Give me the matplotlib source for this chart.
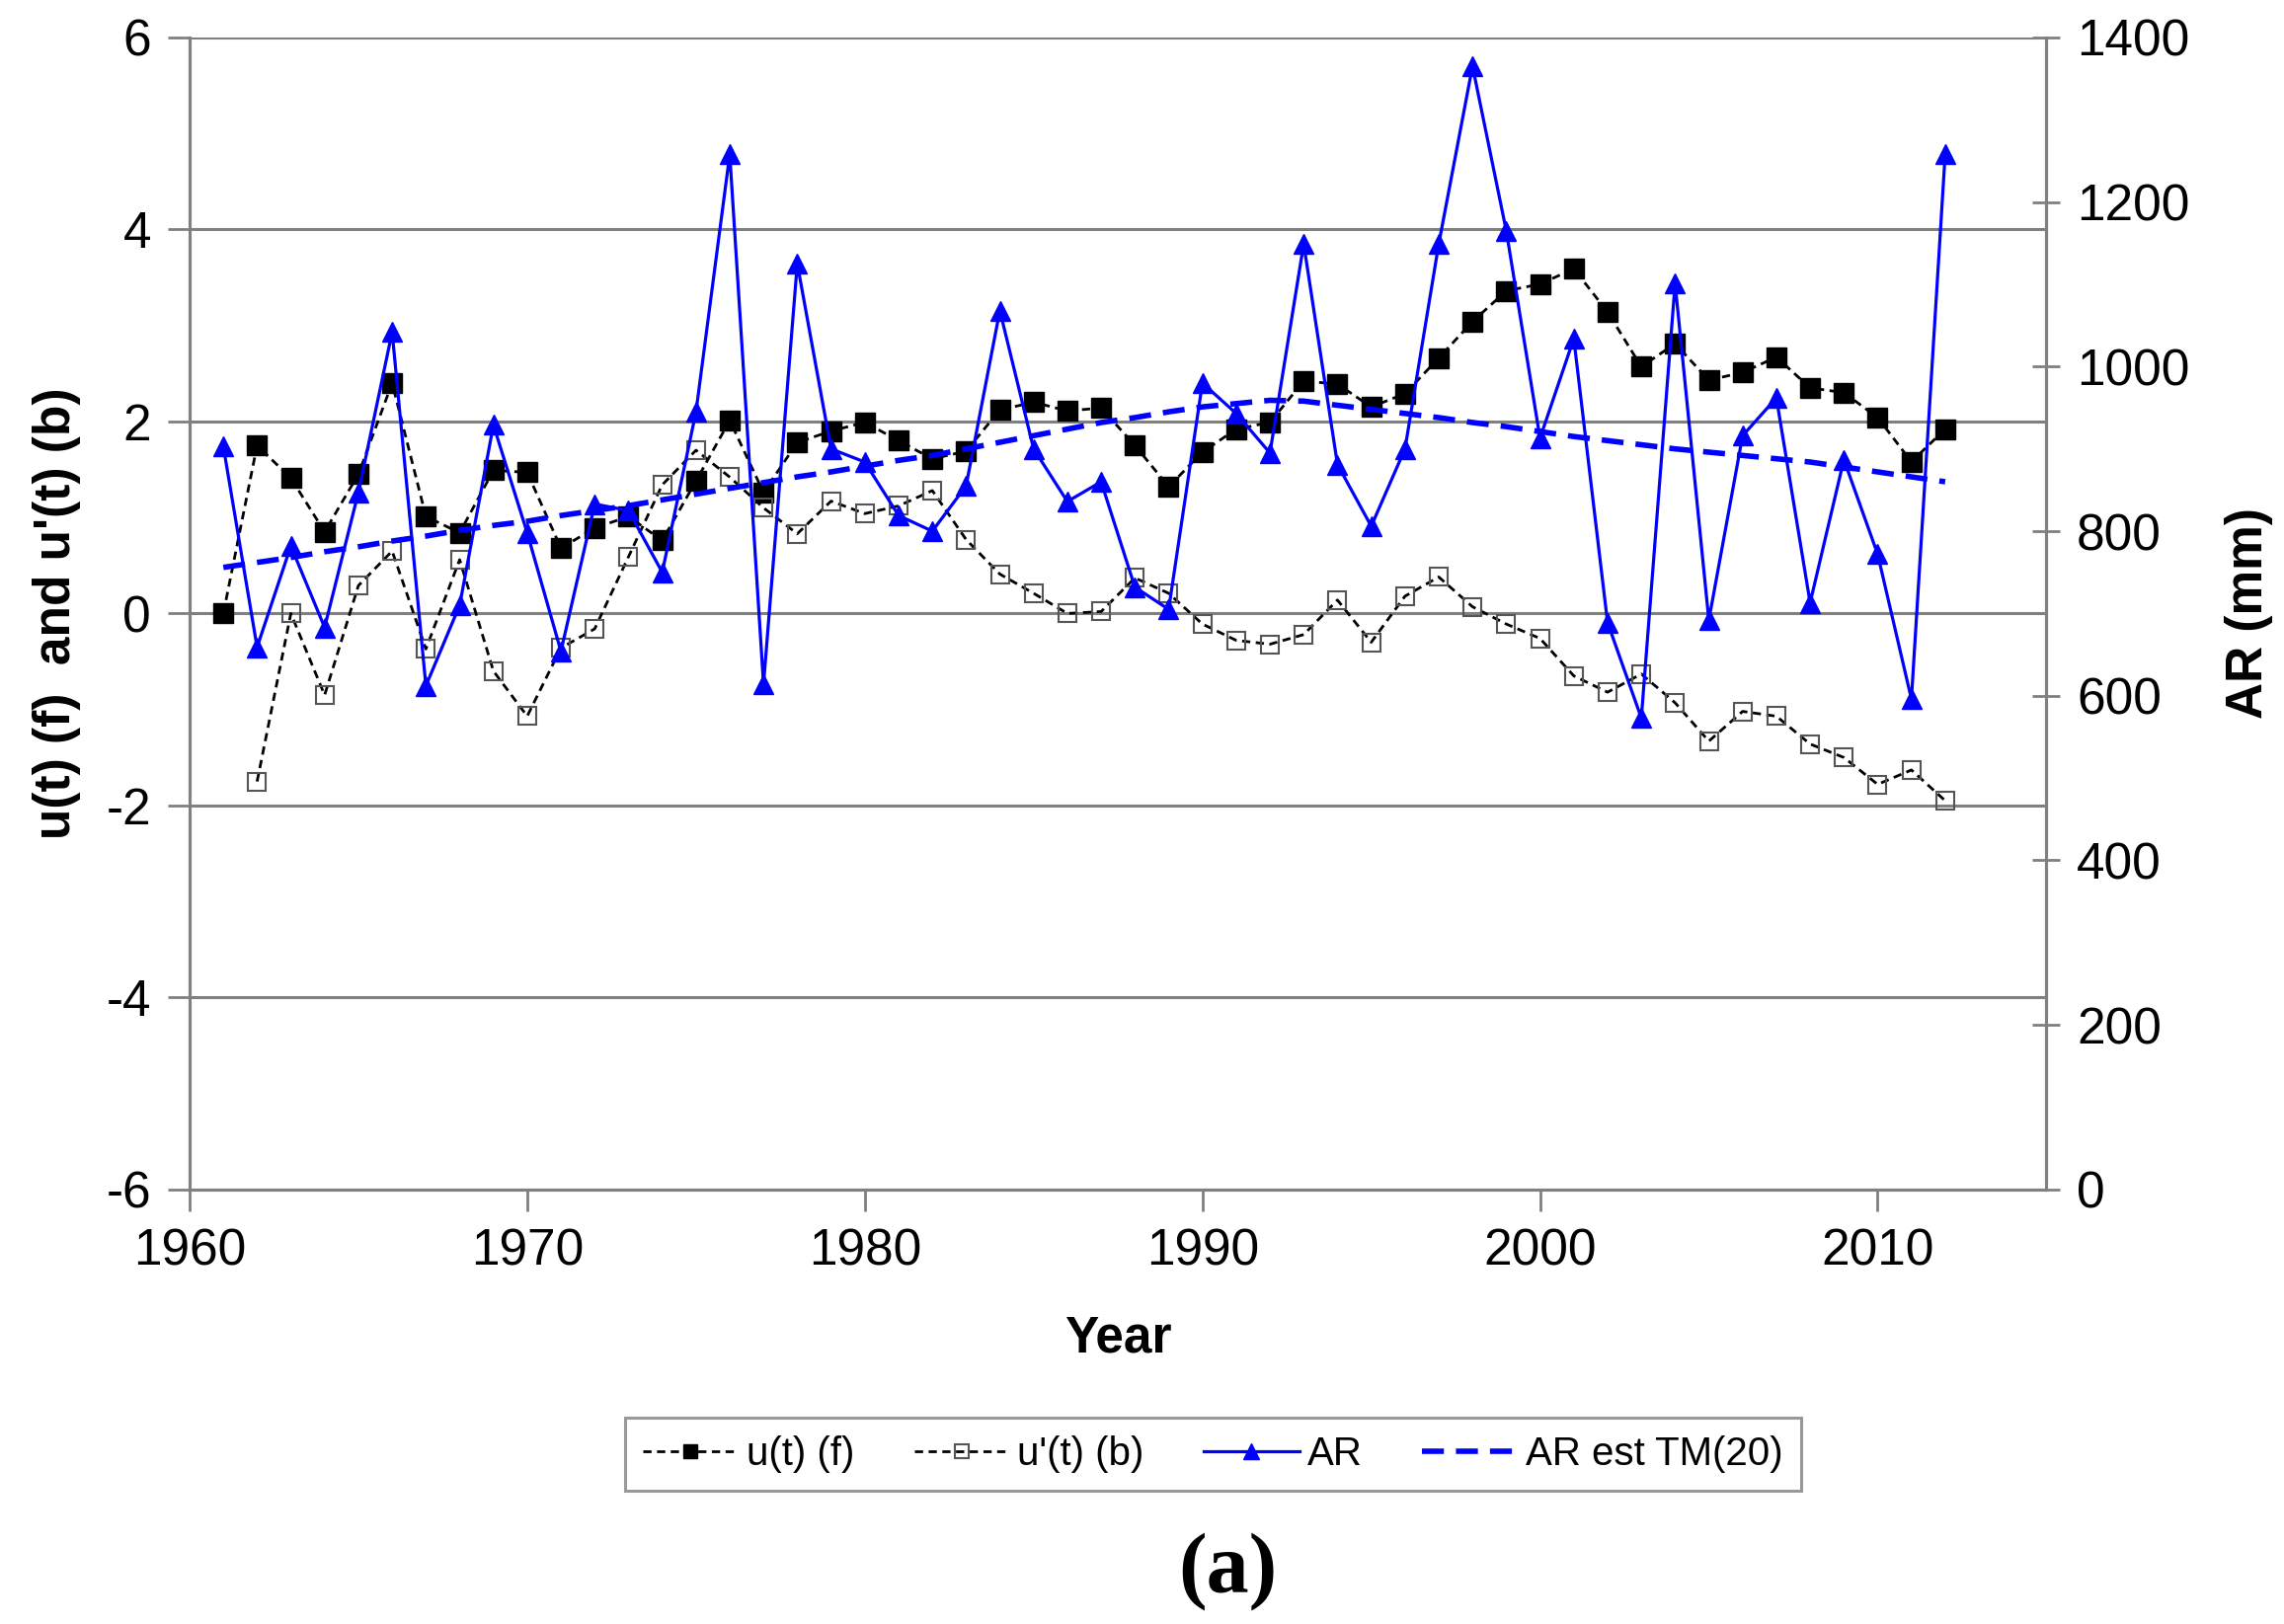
import matplotlib
matplotlib.use("Agg")
import matplotlib.pyplot as plt

plt.rcParams['font.family'] = ['Liberation Sans', 'DejaVu Sans']
plt.rcParams['axes.unicode_minus'] = False

years = list(range(1961, 2013))

# u(t) (f) - forward statistic
u_f = [0.00, 1.75, 1.41, 0.85, 1.45, 2.40, 1.01, 0.84, 1.49, 1.47,
       0.68, 0.89, 1.01, 0.76, 1.38, 2.01, 1.26, 1.78, 1.90, 1.99,
       1.80, 1.61, 1.69, 2.12, 2.20, 2.11, 2.14, 1.75, 1.32, 1.68,
       1.92, 1.99, 2.42, 2.39, 2.15, 2.29, 2.66, 3.04, 3.36, 3.43,
       3.59, 3.14, 2.57, 2.81, 2.43, 2.51, 2.67, 2.35, 2.30, 2.04,
       1.58, 1.92]

# u'(t) (b) - backward statistic (starts 1962)
years_b = list(range(1962, 2013))
u_b = [-1.75, 0.00, -0.85, 0.29, 0.65, -0.37, 0.56, -0.60, -1.07,
       -0.36, -0.16, 0.59, 1.34, 1.70, 1.42, 1.10, 0.83, 1.17, 1.04,
       1.12, 1.28, 0.77, 0.41, 0.21, 0.00, 0.02, 0.37, 0.21, -0.11,
       -0.28, -0.32, -0.22, 0.14, -0.30, 0.18, 0.38, 0.07, -0.11, -0.26,
       -0.65, -0.82, -0.63, -0.93, -1.33, -1.02, -1.07, -1.36, -1.50,
       -1.78, -1.63, -1.95]

# annual rainfall AR (mm)
ar = [903, 659, 782, 683, 847, 1042, 612, 710, 929, 798,
      654, 833, 825, 750, 945, 1258, 614, 1125, 900, 884,
      819, 800, 855, 1068, 900, 836, 860, 732, 705, 980,
      943, 895, 1149, 881, 806, 900, 1149, 1365, 1165, 913,
      1034, 689, 573, 1101, 692, 916, 962, 713, 887, 772,
      596, 1258]

# AR est TM(20)
ar_tm = [756, 762, 768, 775, 781, 788, 794, 801, 807, 812,
         819, 825, 831, 838, 845, 852, 859, 866, 872, 879,
         886, 892, 900, 908, 916, 924, 932, 938, 945, 951,
         955, 959, 958, 953, 948, 943, 938, 932, 927, 921,
         915, 910, 905, 900, 896, 892, 888, 884, 878, 872,
         866, 860]

fig = plt.figure(figsize=(23.13, 16.45), dpi=100)
ax = fig.add_axes([0.083, 0.2675, 0.813, 0.7095])
ax2 = ax.twinx()

gc = '#808080'
fs = 37

ax.plot(years, u_f, color='black', ls=(0, (3, 2)), lw=2.0, marker='s',
        ms=14, mfc='black', mec='black', label='u(t) (f)', zorder=3)
ax.plot(years_b, u_b, color='black', ls=(0, (3, 2)), lw=2.0, marker='s',
        ms=13, mfc='none', mec='#555555', mew=1.5, label="u'(t) (b)", zorder=3)
ax2.plot(years, ar, color='#0000ff', lw=2.3, marker='^', ms=15,
         mfc='#0000ff', mec='#0000ff', label='AR')
ax2.plot(years, ar_tm, color='#0000ff', lw=4, ls=(0, (4, 2.2)),
         label='AR est TM(20)')

ax.set_xlim(1960, 2015)
ax.set_ylim(-6, 6)
ax.set_xticks(range(1960, 2011, 10))
ax.set_yticks(range(-6, 7, 2))
ax2.set_ylim(0, 1400)
ax2.set_yticks(range(0, 1401, 200))

ax.yaxis.grid(True, color=gc, lw=2.2)
ax.set_axisbelow(True)

for a in (ax, ax2):
    for s in a.spines.values():
        s.set_color(gc)
        s.set_linewidth(2.2)
ax.spines['top'].set_visible(False)
ax2.spines['top'].set_visible(False)

ax.tick_params(axis='both', labelsize=fs, direction='out', length=16,
               width=2, color=gc, pad=12)
ax2.tick_params(axis='y', labelsize=fs, direction='inout', length=20,
                width=2, color=gc, pad=12)

ax.set_xlabel('Year', fontsize=fs, fontweight='bold', labelpad=28)
ax.set_ylabel("u(t) (f)  and u'(t) (b)", fontsize=fs, fontweight='bold', labelpad=18)
ax2.set_ylabel('AR (mm)', fontsize=fs, fontweight='bold', labelpad=26)

h1, l1 = ax.get_legend_handles_labels()
h2, l2 = ax2.get_legend_handles_labels()
leg = fig.legend(h1 + h2, l1 + l2, loc='center', bbox_to_anchor=(0.531, 0.1045),
                 ncol=4, fontsize=29, frameon=True, fancybox=False,
                 handlelength=2.4, columnspacing=1.5, handletextpad=0.2,
                 borderpad=0.45, borderaxespad=0, markerscale=0.75)
leg.get_frame().set_edgecolor(gc)
leg.get_frame().set_linewidth(2.2)

fig.text(0.5375, 0.032, '(a)', fontsize=62, family='Liberation Serif',
         fontweight='bold', ha='center', va='center')

fig.savefig('out.png', dpi=100)
